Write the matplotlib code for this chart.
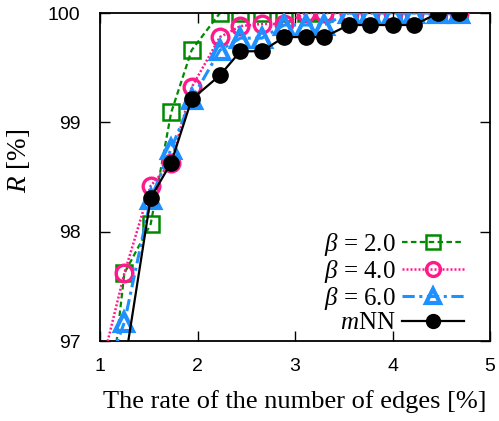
import matplotlib
matplotlib.use("Agg")
import matplotlib.pyplot as plt
import numpy as np

x_all = [1.03, 1.25, 1.52, 1.73, 1.94, 2.23, 2.44, 2.66, 2.89, 3.11, 3.30,
         3.55, 3.77, 4.00, 4.22, 4.47, 4.68]
beta2 = [95.9, 97.62, 98.07, 99.09, 99.66, 100, 100, 100, 100, 100, 100,
         100, 100, 100, 100, 100, 100]
beta4 = [96.82, 97.62, 98.42, 98.63, 99.32, 99.78, 99.88, 99.90, 99.90, 100, 100,
         100, 100, 100, 100, 100, 100]
beta6 = [96.64, 97.17, 98.30, 98.76, 99.21, 99.66, 99.77, 99.77, 99.89, 99.89, 99.89,
         100, 100, 100, 100, 100, 100]
x_mnn = x_all[1:]
mnn = [96.77, 98.31, 98.63, 99.21, 99.43, 99.65, 99.65, 99.78, 99.78, 99.78,
       99.89, 99.89, 99.89, 99.89, 100, 100]

labels = [r"$\beta$ = 2.0", r"$\beta$ = 4.0", r"$\beta$ = 6.0", r"$m$NN"]
xticks = [1, 2, 3, 4, 5]
yticks = [97, 98, 99, 100]

plt.rcParams['font.family'] = ['Liberation Serif', 'DejaVu Serif']
plt.rcParams['mathtext.fontset'] = 'custom'
plt.rcParams['mathtext.rm'] = 'Liberation Serif'
plt.rcParams['mathtext.it'] = 'Liberation Serif:italic'

fig = plt.figure(figsize=(4.99, 4.21), dpi=100)
ax = fig.add_axes([100/499, 80/421, 390/499, 328/421])

green = '#008a00'
pink = '#ff1a8c'
blue = '#1e90ff'

ax.plot(x_all, beta2, color=green, ls=(0, (2.5, 1.5)), lw=1.6, marker='s', ms=12,
        mfc='none', mec=green, mew=1.8, label=labels[0], zorder=2)
ax.plot(x_all, beta4, color=pink, ls=(0, (0.8, 0.8)), lw=1.8, marker='o', ms=12,
        mfc='none', mec=pink, mew=2.4, label=labels[1], zorder=3)
ax.plot(x_all, beta6, color=blue, ls=(0, (4, 1.5, 1, 1.5)), lw=2.2, marker='^', ms=12.5,
        mfc='none', mec=blue, mew=3.0, label=labels[2], zorder=4)
ax.plot(x_mnn, mnn, color='black', ls='-', lw=1.6, marker='o', ms=11,
        mfc='black', mec='black', label=labels[3], zorder=5)

ax.set_xlim(1, 5)
ax.set_ylim(97, 100)
ax.set_xticks(xticks)
ax.set_yticks(yticks)
ax.tick_params(direction='in', length=7, width=1, top=True, right=True,
               labelsize=14)
ax.tick_params(axis='y', pad=14)
ax.tick_params(axis='x', pad=12)
for lab in ax.get_xticklabels() + ax.get_yticklabels():
    lab.set_fontfamily('Liberation Sans')
for s in ax.spines.values():
    s.set_linewidth(1.3)

ax.set_xlabel("The rate of the number of edges [%]", fontsize=19, labelpad=11)
ax.set_ylabel(r"$R$ [%]", fontsize=19.5)
ax.yaxis.set_label_coords(-0.174, 0.549)

leg = ax.legend(loc='lower right', frameon=False, markerfirst=False, fontsize=18,
                handlelength=2.5, handletextpad=0.25, labelspacing=0.0,
                borderaxespad=0.0, bbox_to_anchor=(0.96, -0.01))
for t in leg.get_texts():
    t.set_ha('right')
for h in leg.legend_handles:
    h.set_markersize(10)

fig.savefig("out.png", dpi=100)
